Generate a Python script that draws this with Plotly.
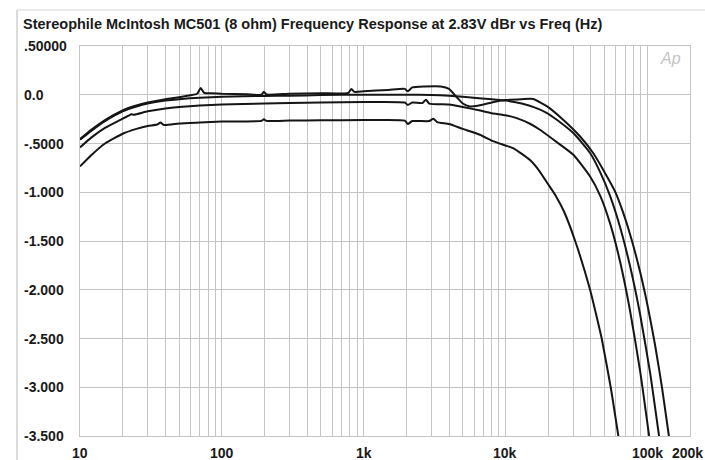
import math
import plotly.graph_objects as go

# ---- data ----
freq_a1 = [10, 12, 15, 20, 25, 30, 40, 50, 60, 67, 71, 75, 85, 100, 150, 190, 198, 206, 300, 500,
           780, 820, 860, 1000, 1500, 1950, 2050, 2200, 2700, 3500, 4000, 4500, 5000, 5600, 6500,
           8000, 10000, 13000, 15650, 19650, 25500, 33600, 41500, 50400, 59300, 67500, 76900,
           89000, 101300, 113500, 127200, 142000]
db_a1 = [-0.455, -0.36, -0.26, -0.16, -0.11, -0.08, -0.045, -0.025, -0.005, 0.01, 0.07, 0.02, 0.015,
         0.01, 0.005, 0.0, 0.03, 0.003, 0.01, 0.015, 0.02, 0.06, 0.03, 0.035, 0.05, 0.06, 0.035,
         0.075, 0.085, 0.085, 0.06, -0.02, -0.09, -0.12, -0.11, -0.08, -0.055, -0.045, -0.043, -0.119,
         -0.256, -0.428, -0.598, -0.804, -0.993, -1.207, -1.469, -1.819, -2.189, -2.569, -3.011, -3.5]

freq_a2 = [10, 12, 15, 20, 25, 30, 40, 50, 70, 100, 200, 300, 500, 1000, 2000, 3000, 4000, 5000,
           6500, 8000, 10000, 13000, 16000, 19500, 23000, 30100, 39500, 46500, 54700, 64300, 75600,
           89000, 104600, 121000]
db_a2 = [-0.46, -0.37, -0.27, -0.17, -0.12, -0.09, -0.06, -0.045, -0.03, -0.02, -0.012, -0.01,
         -0.003, 0.0, 0.0, -0.003, -0.01, -0.02, -0.035, -0.045, -0.06, -0.09, -0.13, -0.185, -0.256,
         -0.393, -0.598, -0.794, -1.040, -1.359, -1.760, -2.254, -2.850, -3.5]

freq_b = [10, 12, 15, 20, 22, 23, 24, 30, 40, 50, 70, 100, 200, 300, 500, 1000, 1950, 2050, 2200,
          2600, 2750, 2900, 4000, 5000, 6500, 8000, 10000, 12000, 15000, 17500, 22800, 30100, 39500,
          46500, 54700, 64300, 75600, 89000, 103000]
db_b = [-0.54, -0.44, -0.34, -0.245, -0.215, -0.2, -0.205, -0.17, -0.14, -0.125, -0.11, -0.10,
        -0.09, -0.085, -0.08, -0.075, -0.08, -0.105, -0.08, -0.085, -0.05, -0.09, -0.10, -0.125,
        -0.16, -0.19, -0.21, -0.24, -0.30, -0.359, -0.482, -0.616, -0.839, -1.034, -1.322, -1.713,
        -2.217, -2.834, -3.5]

freq_c = [10, 12, 15, 20, 25, 30, 35, 37, 39, 50, 70, 100, 190, 198, 206, 300, 500, 1000, 1950,
          2050, 2200, 2900, 3100, 3300, 4000, 5000, 6600, 8000, 10000, 11400, 14900, 17500, 19600,
          22700, 25900, 31000, 39500, 44500, 47700, 55200, 62500]
db_c = [-0.735, -0.62, -0.50, -0.40, -0.35, -0.32, -0.305, -0.285, -0.31, -0.295, -0.285, -0.275,
        -0.268, -0.25, -0.268, -0.265, -0.262, -0.26, -0.265, -0.30, -0.27, -0.27, -0.245, -0.28,
        -0.30, -0.35, -0.41, -0.47, -0.52, -0.55, -0.67, -0.79, -0.90, -1.04, -1.20, -1.5,
        -2.0, -2.31, -2.5, -3.0, -3.5]

y_ticks = [0.5, 0.0, -0.5, -1.0, -1.5, -2.0, -2.5, -3.0, -3.5]
y_labels = [".50000", "0.0", "-.5000", "-1.000", "-1.500", "-2.000", "-2.500", "-3.000", "-3.500"]

x_ticks = [10, 100, 1000, 10000, 100000, 200000]
x_labels = ["10", "100", "1k", "10k", "100k", "200k"]
x_grid = [m * 10 ** e for e in range(1, 6) for m in range(1, 10) if m * 10 ** e <= 200000]

title = "Stereophile McIntosh MC501 (8 ohm) Frequency Response at 2.83V dBr vs Freq (Hz)"

fig = go.Figure()
for fx, fy in [(freq_c, db_c), (freq_b, db_b), (freq_a2, db_a2), (freq_a1, db_a1)]:
    fig.add_trace(go.Scatter(x=fx, y=fy, mode="lines",
                             line=dict(color="#151515", width=2, shape="spline", smoothing=0.5),
                             showlegend=False, hoverinfo="skip", cliponaxis=True))

grid_col = "#c4c4c4"
fig.update_xaxes(type="log", range=[1, math.log10(200000)], tickvals=x_grid, showticklabels=False,
                 showgrid=True, gridcolor=grid_col, gridwidth=1,
                 showline=True, linecolor=grid_col, mirror=True,
                 ticks="", zeroline=False)
fig.update_yaxes(range=[-3.5, 0.5], tickvals=y_ticks, showticklabels=False,
                 showgrid=True, gridcolor=grid_col, gridwidth=1,
                 showline=True, linecolor=grid_col, mirror=True,
                 ticks="", zeroline=False)

lab_font = dict(family="Liberation Sans, Arial", size=14, color="#1a1a1a", weight="bold")
ann = []
for v, t in zip(y_ticks, y_labels):
    ann.append(dict(x=(22 - 80) / 610, xref="paper", y=v, yref="y", text=t, showarrow=False,
                    xanchor="left", yanchor="middle", font=lab_font))
for v, t in zip(x_ticks, x_labels):
    ann.append(dict(x=math.log10(v), xref="x", y=(436 - 453) / 390, yref="paper", text=t,
                    showarrow=False, xanchor="center", yanchor="middle", font=lab_font,
                    xshift=-3 if v == 200000 else 0))
ann.append(dict(x=(21 - 80) / 610, xref="paper", y=(436 - 24) / 390, yref="paper", text=title,
                showarrow=False, xanchor="left", yanchor="middle",
                font=dict(family="Liberation Sans, Arial", size=14.5, color="#1a1a1a", weight="bold")))
ann.append(dict(x=(683 - 80) / 610, xref="paper", y=(436 - 58) / 390, yref="paper", text="<i>Ap</i>",
                showarrow=False, xanchor="right", yanchor="middle",
                font=dict(family="Liberation Sans, Arial", size=16, color="#c4c4c4")))

shapes = [
    dict(type="line", xref="paper", yref="paper", x0=(17 - 80) / 610, x1=(17 - 80) / 610,
         y0=(436 - 10) / 390, y1=(436 - 460) / 390, line=dict(color="#b8b8b8", width=1)),
    dict(type="line", xref="paper", yref="paper", x0=(17 - 80) / 610, x1=(705 - 80) / 610,
         y0=(436 - 10) / 390, y1=(436 - 10) / 390, line=dict(color="#d6d6d6", width=1)),
]

fig.update_layout(width=705, height=460, margin=dict(l=80, r=15, t=46, b=24),
                  paper_bgcolor="white", plot_bgcolor="white",
                  annotations=ann, shapes=shapes)

fig.write_html("out.html")
